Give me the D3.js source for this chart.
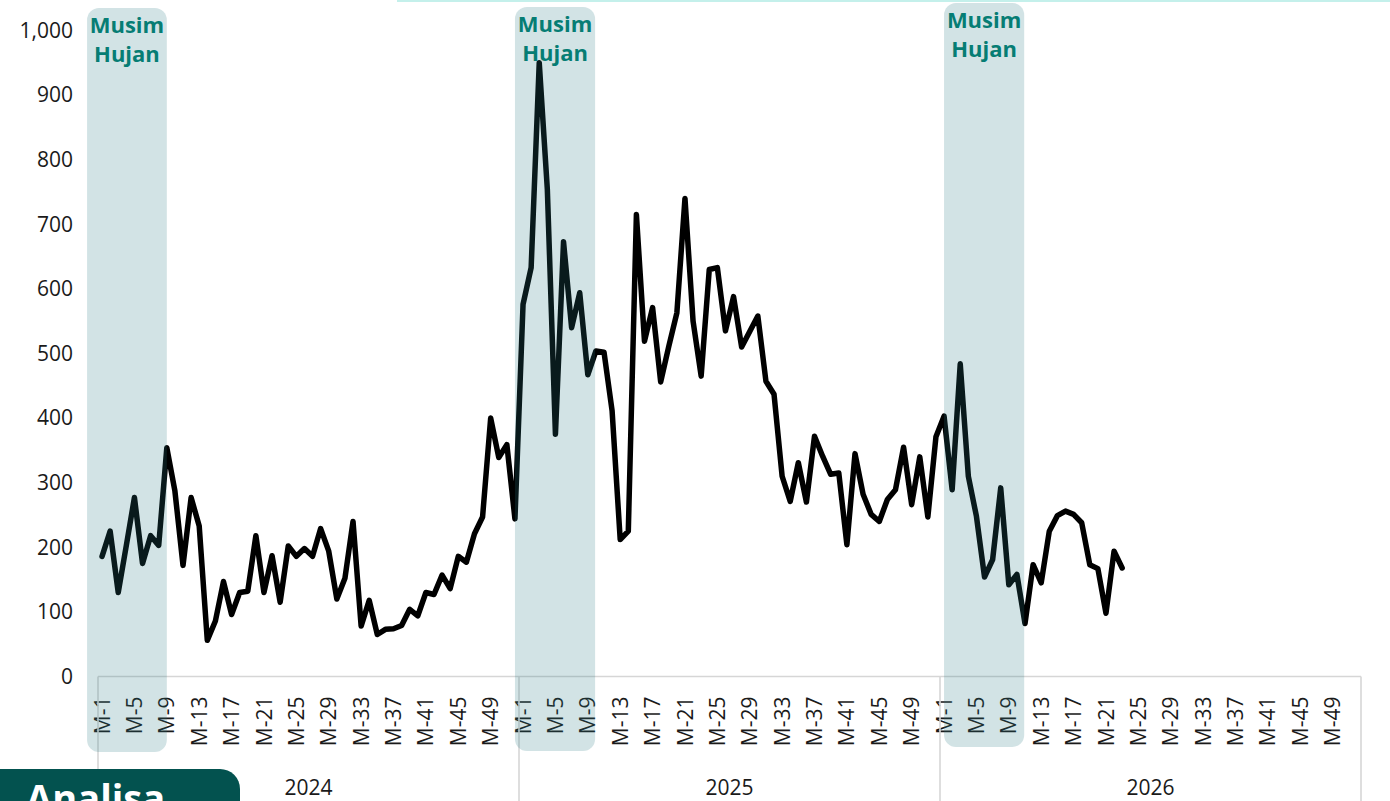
<!DOCTYPE html>
<html>
<head>
<meta charset="utf-8">
<script src="https://cdn.jsdelivr.net/npm/d3@7"></script>
<style>
  html, body { margin: 0; padding: 0; background: #ffffff; }
  svg { display: block; font-family: "Open Sans", "Noto Sans", sans-serif; }
</style>
</head>
<body>
<svg id="chart" width="1390" height="801"></svg>
<script>
// ---------------- DATA ----------------
const years = ["2024", "2025", "2026"];
const weeksPerYear = 52;
const tickWeeks = [1, 5, 9, 13, 17, 21, 25, 29, 33, 37, 41, 45, 49];
const yTicks = [0, 100, 200, 300, 400, 500, 600, 700, 800, 900, 1000];

const values2024 = [186,225,130,203,277,175,218,203,354,287,172,277,233,56,86,147,96,130,132,218,
                    130,187,115,202,186,198,186,229,194,120,152,240,78,118,65,73,74,79,104,94,
                    130,127,157,136,186,177,221,247,400,339,359,244];
const values2025 = [576,633,950,754,375,673,540,594,467,504,502,411,212,225,715,519,571,456,511,563,
                    740,550,465,630,633,535,588,510,534,558,457,437,310,271,331,270,372,341,313,315,
                    204,345,282,251,240,274,289,355,266,340,247,371];
const values2026 = [403,289,484,310,248,154,181,292,142,158,82,173,145,225,249,256,251,238,173,167,
                    98,194,168];

const seasonLabel = ["Musim", "Hujan"];
const seasonYears = ["2024", "2025", "2026"];
// season span in weeks relative to the start of each year (band units)
const seasonFrom = [-1.35, -0.5, 0.5];
const seasonTo   = [8.5, 9.4, 10.4];

// ---------------- LAYOUT ----------------
const W = 1390, H = 801;
const plotLeft = 98, plotRight = 1361;
const y0 = 676.5, y1000 = 30.5;
const seasonTop = [8, 7, 3];
const seasonBottom = [752, 751, 747];

const svg = d3.select("#chart");

// categories
const cats = [];
years.forEach(y => { for (let w = 1; w <= weeksPerYear; w++) cats.push(y + "|" + w); });

const x = d3.scaleBand().domain(cats).range([plotLeft, plotRight]).padding(0);
const bw = x.bandwidth();
const y = d3.scaleLinear().domain([0, 1000]).range([y0, y1000]);

const series = [];
[values2024, values2025, values2026].forEach((arr, yi) => {
  arr.forEach((v, i) => series.push({ key: years[yi] + "|" + (i + 1), v }));
});

// top decorative line
svg.append("rect").attr("x", 397).attr("y", 0).attr("width", W - 397).attr("height", 2)
  .attr("fill", "#c4f0eb");

// Y axis
const yAxis = d3.axisLeft(y).tickValues(yTicks).tickFormat(d3.format(",")).tickSize(0).tickPadding(25);
const gy = svg.append("g").attr("transform", `translate(${plotLeft},0)`).call(yAxis);
gy.select(".domain").remove();
gy.selectAll("text").attr("fill", "#1a1a1a").style("font-size", "21px")
  .style("font-family", "'Open Sans', sans-serif");

// X axis (ticks)
const tickKeys = [];
years.forEach(yr => tickWeeks.forEach(w => tickKeys.push(yr + "|" + w)));
const xAxis = d3.axisBottom(x).tickValues(tickKeys).tickFormat(k => "M-" + k.split("|")[1]).tickSize(0);
const gx = svg.append("g").attr("transform", `translate(0,${y0})`).call(xAxis);
gx.select(".domain").remove();
gx.selectAll("text")
  .attr("transform", "rotate(-90)")
  .attr("x", -20).attr("y", 0).attr("dy", "0.36em")
  .style("text-anchor", "end")
  .attr("fill", "#1a1a1a").style("font-size", "21px")
  .style("font-family", "'Open Sans', sans-serif");

// axis frame lines
const gridColor = "#d6d6d6";
svg.append("line").attr("x1", plotLeft).attr("x2", plotRight).attr("y1", y0).attr("y2", y0)
  .attr("stroke", gridColor).attr("stroke-width", 1.6);
const sepXs = years.map(yr => x(yr + "|1")).concat([plotRight]);
svg.selectAll("line.sep").data(sepXs).enter().append("line").attr("class", "sep")
  .attr("x1", d => d).attr("x2", d => d).attr("y1", y0).attr("y2", H)
  .attr("stroke", gridColor).attr("stroke-width", 1.6);

// year labels
svg.selectAll("text.year").data(years).enter().append("text").attr("class", "year")
  .attr("x", yr => x(yr + "|1") + bw * weeksPerYear / 2)
  .attr("y", 795)
  .attr("text-anchor", "middle")
  .attr("fill", "#1a1a1a").style("font-size", "21px")
  .text(d => d);

// line
const line = d3.line().x(d => x(d.key) + bw / 2).y(d => y(d.v));
svg.append("path").datum(series).attr("d", line)
  .attr("fill", "none").attr("stroke", "#000").attr("stroke-width", 5.5)
  .attr("stroke-linejoin", "round").attr("stroke-linecap", "round");

// season shading (drawn over line, semi-transparent)
seasonYears.forEach((yr, i) => {
  const xs = x(yr + "|1") + seasonFrom[i] * bw;
  const xe = x(yr + "|1") + seasonTo[i] * bw;
  svg.append("rect")
    .attr("x", xs).attr("y", seasonTop[i])
    .attr("width", xe - xs).attr("height", seasonBottom[i] - seasonTop[i])
    .attr("rx", 12).attr("ry", 12)
    .attr("fill", "#2a7a86").attr("fill-opacity", 0.21);
  const t = svg.append("text")
    .attr("x", (xs + xe) / 2).attr("y", seasonTop[i] + 25)
    .attr("text-anchor", "middle")
    .attr("fill", "#067d74").style("font-size", "22px").style("font-weight", "700");
  seasonLabel.forEach((s, j) => {
    t.append("tspan").attr("x", (xs + xe) / 2).attr("dy", j === 0 ? 0 : 28.5).text(s);
  });
});

// bottom-left badge
svg.append("path")
  .attr("d", "M0,769 H220 A20,20 0 0 1 240,789 V801 H0 Z")
  .attr("fill", "#03524f");
svg.append("text").attr("x", 26).attr("y", 812)
  .attr("fill", "#ffffff").style("font-size", "38px").style("font-weight", "700")
  .text("Analisa");
</script>
</body>
</html>
